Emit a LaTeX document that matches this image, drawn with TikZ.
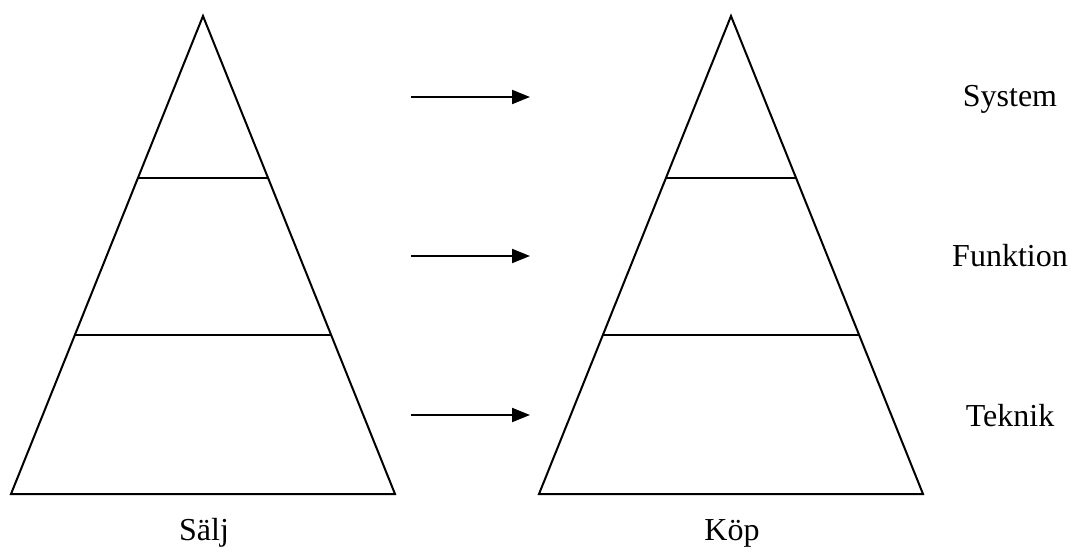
\documentclass[tikz,border=0pt]{standalone}
\usepackage{fontspec}
\setmainfont{Liberation Serif}
\usetikzlibrary{arrows.meta,calc}
\begin{document}
\begin{tikzpicture}[x=1pt,y=-1pt,
  edge/.style={line width=2pt,line join=miter},
  level/.style={line width=2pt},
  flow/.style={line width=2pt,-{Triangle[length=18pt,width=14pt]}},
  lbl/.style={font=\fontsize{32}{38}\selectfont,inner sep=0pt,anchor=base}]
\useasboundingbox (0,0) rectangle (1074,553);
% left pyramid
\coordinate (LA) at (203,16);
\coordinate (LL) at (11,494);
\coordinate (LR) at (395,494);
\draw[edge] (LA) -- (LL) -- (LR) -- cycle;
\draw[level] ($(LA)!0.3389!(LL)$) -- ($(LA)!0.3389!(LR)$);
\draw[level] ($(LA)!0.6674!(LL)$) -- ($(LA)!0.6674!(LR)$);
% right pyramid
\coordinate (RA) at (731,16);
\coordinate (RL) at (539,494);
\coordinate (RR) at (923,494);
\draw[edge] (RA) -- (RL) -- (RR) -- cycle;
\draw[level] ($(RA)!0.3389!(RL)$) -- ($(RA)!0.3389!(RR)$);
\draw[level] ($(RA)!0.6674!(RL)$) -- ($(RA)!0.6674!(RR)$);
% arrows
\coordinate (a1) at (411,97); \coordinate (b1) at (530,97);
\coordinate (a2) at (411,256); \coordinate (b2) at (530,256);
\coordinate (a3) at (411,415); \coordinate (b3) at (530,415);
\draw[flow] (a1) -- (b1);
\draw[flow] (a2) -- (b2);
\draw[flow] (a3) -- (b3);
% labels
\node[lbl] (sys) at (1010,107) {System};
\node[lbl] (fun) at (1010,267) {Funktion};
\node[lbl] (tek) at (1010,426) {Teknik};
\node[lbl] (salj) at (204,540) {Sälj};
\node[lbl] (kop) at (732,540) {Köp};
\end{tikzpicture}
\end{document}
